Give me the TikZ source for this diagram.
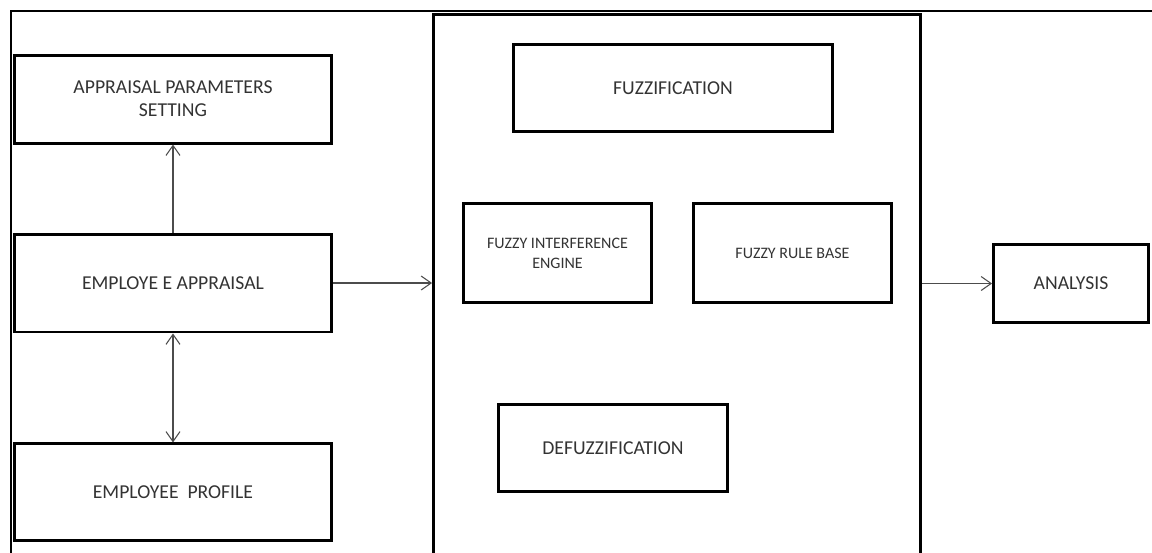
\documentclass[tikz,border=0pt]{standalone}
\usepackage{fontspec}
\setmainfont{Carlito}
\usetikzlibrary{arrows.meta}
\usetikzlibrary{positioning}

\begin{document}
\begin{tikzpicture}[x=0.02cm, y=-0.02cm,
    block/.style = {draw, rectangle, line width=1.7pt, align=center, inner sep=0pt,
                    text=black!80, font=\fontsize{11.2}{13.1}\selectfont},
    small/.style = {font=\fontsize{9.1}{11.4}\selectfont},
    link/.style = {draw=black!70, line width=0.6pt}]
  \tikzset{>={Straight Barb[length=0.2cm, width=0.28cm]}}
  \useasboundingbox (0,0) rectangle (1152,552);
  \clip (0,0) rectangle (1152,552);

  % edge of the page
  \draw[line width=1.7pt] (1160,11) -| (11,560);

  \node[block, minimum width=6.34cm, minimum height=1.96cm] (ea) at (173,283) {EMPLOYE E APPRAISAL};
  \node[block, minimum width=6.34cm, minimum height=1.76cm, above=1.76cm of ea] (aps) {APPRAISAL PARAMETERS\\SETTING};
  \node[block, minimum width=6.34cm, minimum height=1.94cm, below=2.18cm of ea] (ep) {EMPLOYEE\ \ PROFILE};

  % fuzzy system
  \node[block, minimum width=9.74cm, minimum height=11.94cm] (engine) at (677,313) {};
  \node[block, minimum width=6.38cm, minimum height=1.74cm] (fuzz) at (673,88) {FUZZIFICATION};
  \node[block, small, minimum width=3.76cm, minimum height=1.98cm] (fie) at (557.5,253) {FUZZY INTERFERENCE\\ENGINE};
  \node[block, small, minimum width=3.96cm, minimum height=1.98cm, right=0.78cm of fie] (frb) {FUZZY RULE BASE};
  \node[block, minimum width=4.58cm, minimum height=1.74cm] (defuzz) at (613,448) {DEFUZZIFICATION};

  \node[block, minimum width=3.1cm, minimum height=1.56cm] (analysis) at (1071,283.5) {ANALYSIS};

  \draw[link, ->] (ea) -- (aps);
  \draw[link, <->] (ea) -- (ep);
  \draw[link, ->] (ea.east) -- (ea.east -| engine.west);
  \draw[link, ->] (analysis.west -| engine.east) -- (analysis.west);
\end{tikzpicture}
\end{document}
